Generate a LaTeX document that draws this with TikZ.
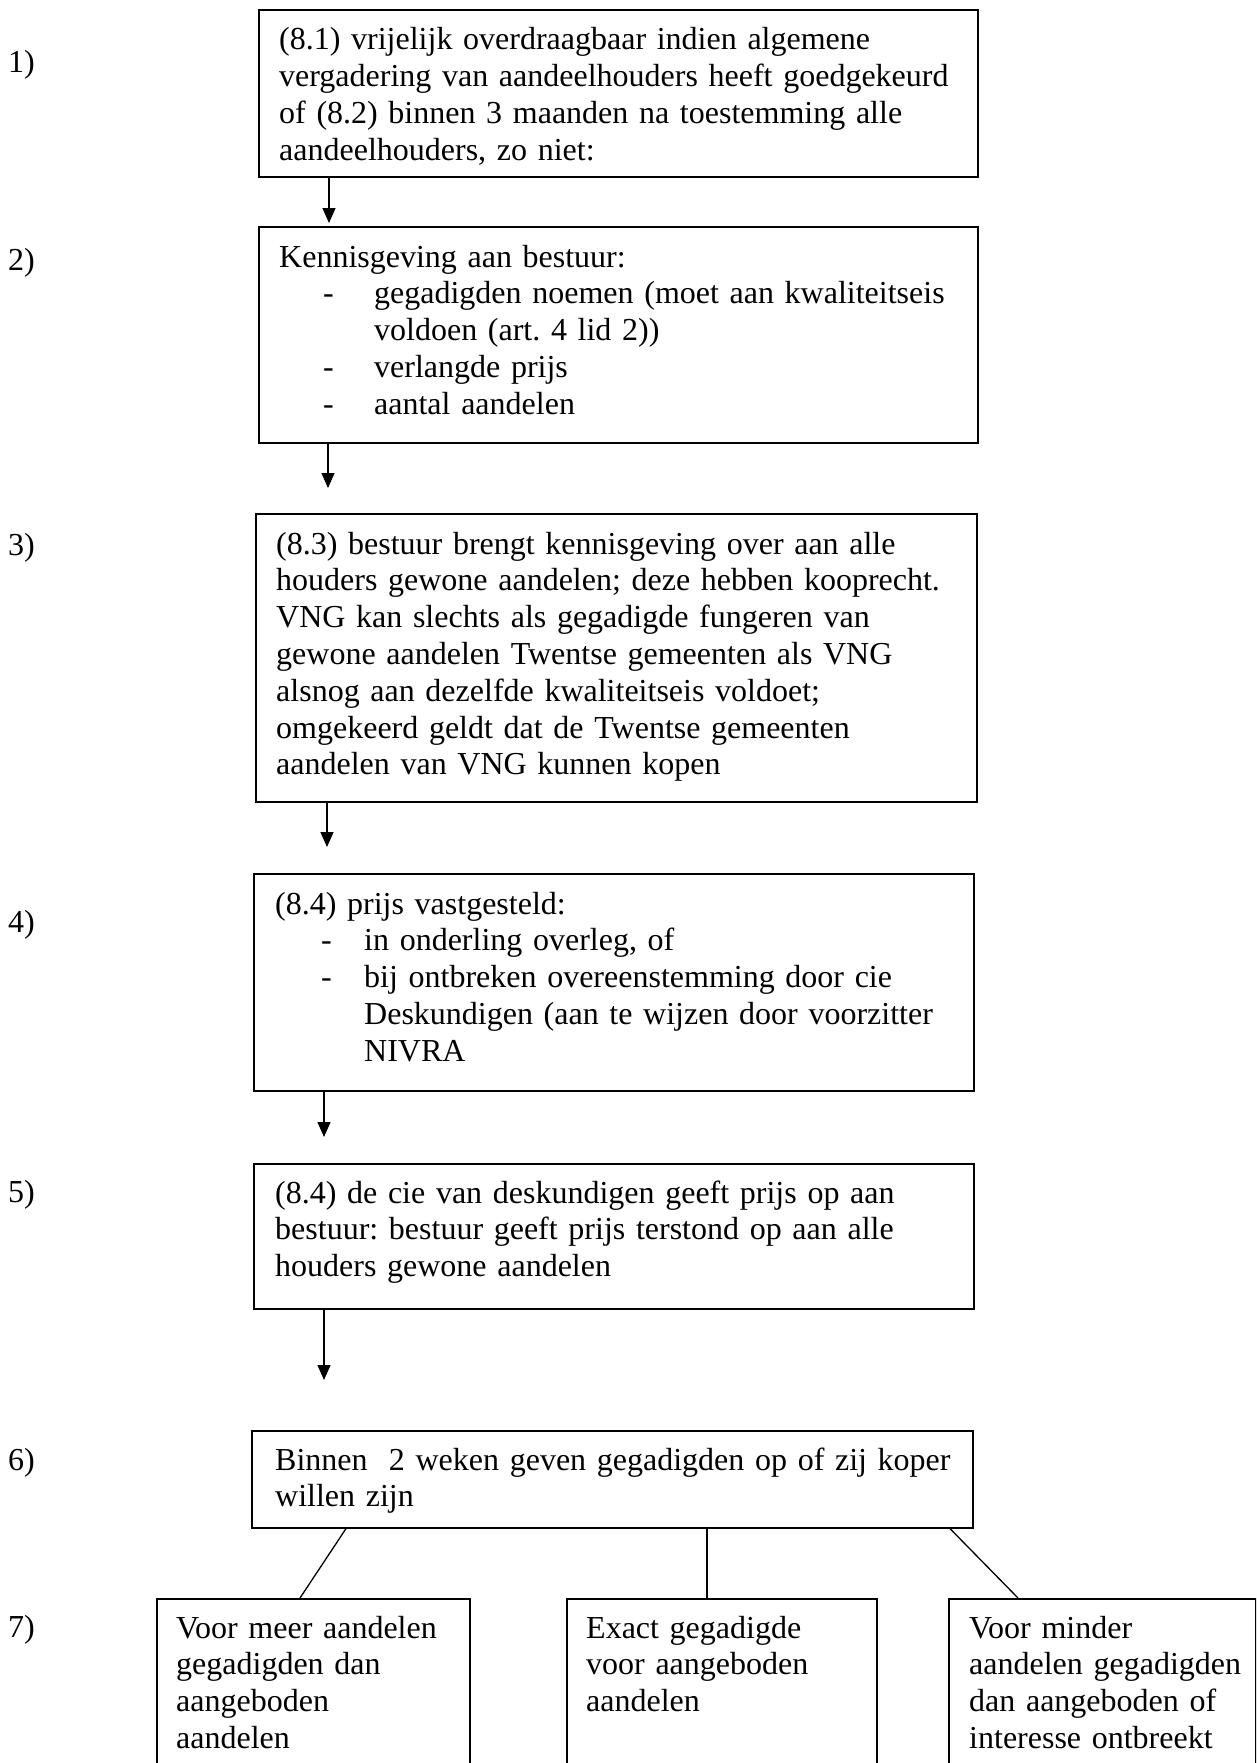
\documentclass[tikz,border=0pt]{standalone}
\usepackage{fontspec}
\setmainfont{Liberation Serif}
\usetikzlibrary{arrows.meta,calc}
\frenchspacing
\newcommand{\bulA}[1]{\makebox[95pt][l]{\hspace*{44pt}-}#1}
\newcommand{\bulB}[1]{\makebox[89pt][l]{\hspace*{46pt}-}#1}
\begin{document}
\frenchspacing
\begin{tikzpicture}[x=1pt,y=-1pt,
  box/.style={draw, line width=1.6pt, rectangle, inner sep=0pt, anchor=north west},
  txt/.style={anchor=base west, inner sep=0pt, align=left, font=\fontsize{32}{36.8}\selectfont\frenchspacing},
  lbl/.style={anchor=base west, inner sep=0pt, font=\fontsize{32}{36.8}\selectfont},
  arr/.style={line width=1.3pt, -{Triangle[length=15pt,width=13pt]}},
  con/.style={line width=1.3pt}]
\useasboundingbox (0,0) rectangle (1256,1763);
\fill[white] (0,0) rectangle (1256,1763);
\clip (0,0) rectangle (1256,1763);

% labels
\node[lbl] (l1) at (8,73) {1)};
\node[lbl] (l2) at (8,270) {2)};
\node[lbl] (l3) at (8,555) {3)};
\node[lbl] (l4) at (8,932) {4)};
\node[lbl] (l5) at (8,1202) {5)};
\node[lbl] (l6) at (8,1470) {6)};
\node[lbl] (l7) at (8,1637) {7)};

% boxes
\node[box, minimum width=719pt, minimum height=167pt] (b1) at (258,9) {};
\node[box, minimum width=719pt, minimum height=216pt] (b2) at (258,226) {};
\node[box, minimum width=721pt, minimum height=288pt] (b3) at (255,513) {};
\node[box, minimum width=720pt, minimum height=217pt] (b4) at (253,873) {};
\node[box, minimum width=720pt, minimum height=145pt] (b5) at (253,1163) {};
\node[box, minimum width=721pt, minimum height=97pt] (b6) at (251,1430) {};
\node[box, minimum width=313pt, minimum height=260pt] (b7a) at (156,1598) {};
\node[box, minimum width=310pt, minimum height=260pt] (b7b) at (566,1598) {};
\node[box, minimum width=307pt, minimum height=260pt] (b7c) at (948,1598) {};

% texts
\node[txt, text width=690pt] (t1) at (279,50) {(8.1) vrijelijk overdraagbaar indien algemene\\vergadering van aandeelhouders heeft goedgekeurd\\of (8.2) binnen 3 maanden na toestemming alle\\aandeelhouders, zo niet:};
\node[txt, text width=690pt] (t2) at (279,267) {Kennisgeving aan bestuur:\\\bulA{gegadigden noemen (moet aan kwaliteitseis}\\\hspace*{95pt}voldoen (art. 4 lid 2))\\\bulA{verlangde prijs}\\\bulA{aantal aandelen}};
\node[txt, text width=690pt] (t3) at (276,554) {(8.3) bestuur brengt kennisgeving over aan alle\\houders gewone aandelen; deze hebben kooprecht.\\VNG kan slechts als gegadigde fungeren van\\gewone aandelen Twentse gemeenten als VNG\\alsnog aan dezelfde kwaliteitseis voldoet;\\omgekeerd geldt dat de Twentse gemeenten\\aandelen van VNG kunnen kopen};
\node[txt, text width=690pt] (t4) at (275,914) {(8.4) prijs vastgesteld:\\\bulB{in onderling overleg, of}\\\bulB{bij ontbreken overeenstemming door cie}\\\hspace*{89pt}Deskundigen (aan te wijzen door voorzitter\\\hspace*{89pt}NIVRA};
\node[txt, text width=690pt] (t5) at (275,1203) {(8.4) de cie van deskundigen geeft prijs op aan\\bestuur: bestuur geeft prijs terstond op aan alle\\houders gewone aandelen};
\node[txt, text width=690pt] (t6) at (275,1470) {Binnen\ \ 2 weken geven gegadigden op of zij koper\\willen zijn};
\node[txt, text width=288pt] (t7a) at (176,1638) {Voor meer aandelen\\gegadigden dan\\aangeboden\\aandelen};
\node[txt, text width=285pt] (t7b) at (586,1638) {Exact gegadigde\\voor aangeboden\\aandelen};
\node[txt, text width=284pt] (t7c) at (969,1638) {Voor minder\\aandelen gegadigden\\dan aangeboden of\\interesse ontbreekt};

% arrows
\coordinate (e1) at (329,223);
\coordinate (e2) at (328,488);
\coordinate (e3) at (327,847);
\coordinate (e4) at (324,1137);
\coordinate (e5) at (324,1380);
\draw[arr] (b1.south -| e1) -- (e1);
\draw[arr] (b2.south -| e2) -- (e2);
\draw[arr] (b3.south -| e3) -- (e3);
\draw[arr] (b4.south -| e4) -- (e4);
\draw[arr] (b5.south -| e5) -- (e5);

% branches
\coordinate (m7b) at ($(b7b.north west)+(141,0)$);
\draw[con] ($(b6.south west)+(95,0)$) -- ($(b7a.north west)+(144,0)$);
\draw[con] (b6.south -| m7b) -- (m7b);
\draw[con] ($(b6.south west)+(699,0)$) -- ($(b7c.north west)+(70,0)$);
\end{tikzpicture}
\end{document}
